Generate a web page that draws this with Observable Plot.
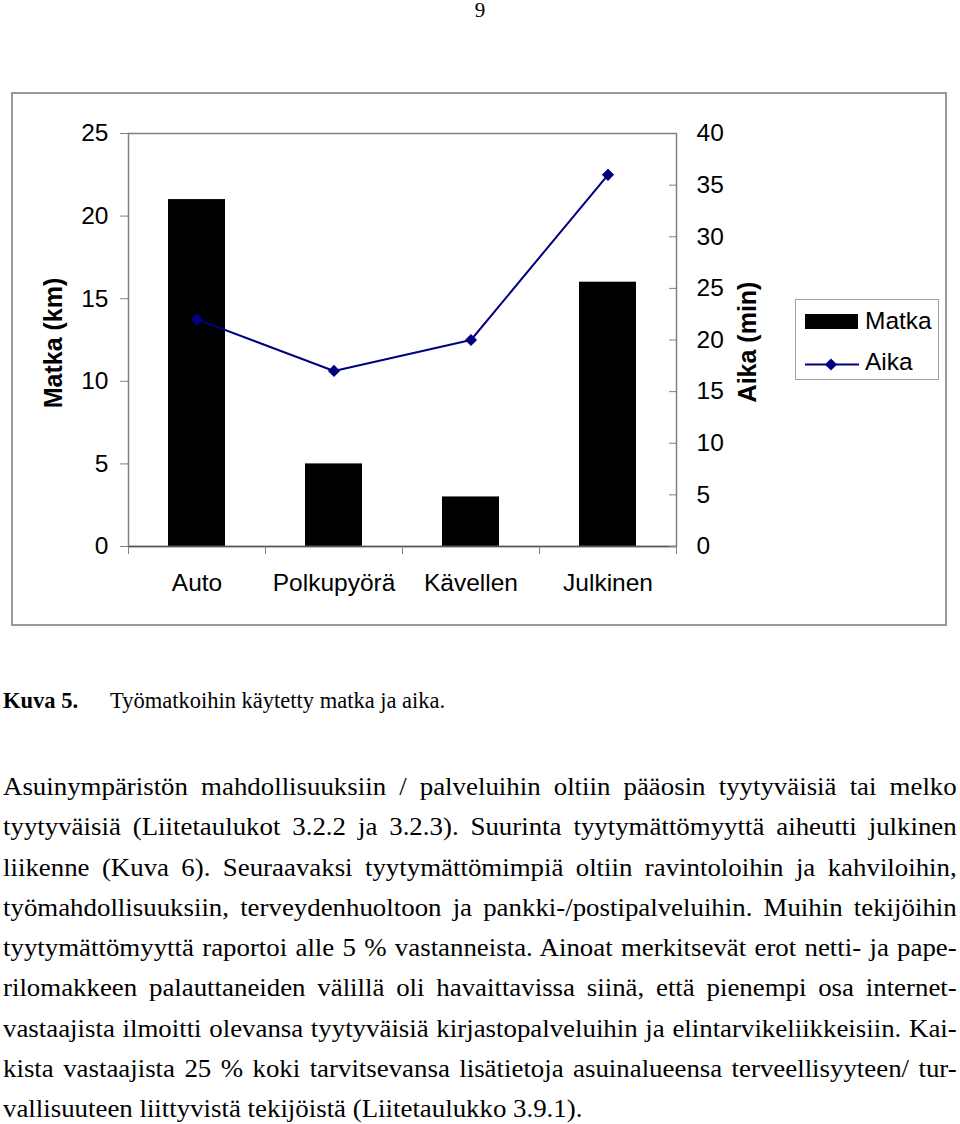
<!DOCTYPE html>
<html><head><meta charset="utf-8">
<script src="https://cdn.jsdelivr.net/npm/d3@7"></script>
<script src="https://cdn.jsdelivr.net/npm/@observablehq/plot@0.6"></script>
<style>
html,body{margin:0;padding:0;background:#fff;}
body{width:960px;height:1124px;position:relative;overflow:hidden;color:#000;}
.serif{font-family:"Liberation Serif","Times New Roman",serif;}
#pagenum{position:absolute;left:0;top:0;width:960px;text-align:center;font-size:21px;line-height:21px;}
#chartwrap{position:absolute;left:11px;top:92px;width:936px;height:534px;}
#chartwrap svg{display:block;}
#chartborder{position:absolute;left:0;top:0;width:936px;height:534px;box-sizing:border-box;border:2px solid #9a9a9a;pointer-events:none;}
#legend{position:absolute;left:784px;top:207px;width:144px;height:81px;box-sizing:border-box;border:1.5px solid #a0a0a0;background:#fff;}
#legend svg{position:absolute;left:-1.5px;top:-1.5px;}
#caption{position:absolute;left:3px;top:690px;font-size:22.5px;line-height:22.5px;white-space:nowrap;}
#caption b{display:inline-block;width:107px;}
#para{position:absolute;left:3px;top:767px;width:888px;font-size:25px;line-height:40.25px;transform:scaleX(1.074);transform-origin:0 0;}
#para div{white-space:nowrap;text-align:justify;text-align-last:justify;height:40.25px;}
#para div.last{text-align-last:left;}
</style></head><body>
<div id="pagenum" class="serif">9</div>
<div id="chartwrap"></div>
<div id="caption" class="serif"><b>Kuva 5.</b>Työmatkoihin käytetty matka ja aika.</div>
<div id="para" class="serif"></div>
<script>
// ---- data ----
const categories = ["Auto", "Polkupyörä", "Kävellen", "Julkinen"];
const matka = [21, 5, 3, 16];          // Matka (km), left axis
const aika = [22, 17, 20, 36];         // Aika (min), right axis
const matkaTicks = [0, 5, 10, 15, 20, 25];
const aikaTicks = [0, 5, 10, 15, 20, 25, 30, 35, 40];
const seriesNames = ["Matka", "Aika"];
const axisTitles = ["Matka (km)", "Aika (min)"];
const matkaMax = 25, aikaMax = 40;

const paragraphLines = [
  "Asuinympäristön mahdollisuuksiin / palveluihin oltiin pääosin tyytyväisiä tai melko",
  "tyytyväisiä (Liitetaulukot 3.2.2 ja 3.2.3). Suurinta tyytymättömyyttä aiheutti julkinen",
  "liikenne (Kuva 6). Seuraavaksi tyytymättömimpiä oltiin ravintoloihin ja kahviloihin,",
  "työmahdollisuuksiin, terveydenhuoltoon ja pankki-/postipalveluihin. Muihin tekijöihin",
  "tyytymättömyyttä raportoi alle 5 % vastanneista. Ainoat merkitsevät erot netti- ja pape-",
  "rilomakkeen palauttaneiden välillä oli havaittavissa siinä, että pienempi osa internet-",
  "vastaajista ilmoitti olevansa tyytyväisiä kirjastopalveluihin ja elintarvikeliikkeisiin. Kai-",
  "kista vastaajista 25 % koki tarvitsevansa lisätietoja asuinalueensa terveellisyyteen/ tur-",
  "vallisuuteen liittyvistä tekijöistä (Liitetaulukko 3.9.1)."
];

// ---- build table ----
const ratio = matkaMax / aikaMax;
const table = categories.map((c, i) => ({kulku: c, matka: matka[i], aika: aika[i]}));

const W = 936, H = 534, mL = 117, mR = 271, mT = 41, mB = 80;
const bw = (W - mL - mR) / categories.length;
const font = "'Liberation Sans', Arial, sans-serif";

const chart = Plot.plot({
  width: W, height: H,
  marginLeft: mL, marginRight: mR, marginTop: mT, marginBottom: mB,
  style: {fontFamily: font, fontSize: "24.5px", color: "#000", background: "transparent", overflow: "visible"},
  x: {type: "band", domain: categories, padding: 0},
  y: {domain: [0, matkaMax]},
  marks: [
    Plot.barY(table, {x: "kulku", y: "matka", fill: "#000", insetLeft: 40, insetRight: 40}),
    Plot.frame({stroke: "#808080", strokeWidth: 1.5}),
    Plot.ruleY([0], {stroke: "#555", strokeWidth: 1.5}),
    Plot.axisX({tickSize: 0, tickPadding: 27, fontSize: 24.5, label: null}),
    Plot.axisX(categories, {tickSize: 8, dx: -bw / 2, tickFormat: () => "", stroke: "#808080", label: null}),
    Plot.axisX([categories[categories.length - 1]], {tickSize: 8, dx: bw / 2, tickFormat: () => "", stroke: "#808080", label: null}),
    Plot.axisY(matkaTicks, {anchor: "left", tickSize: 8, tickPadding: 12, stroke: "#808080", fontSize: 24.5, label: null}),
    Plot.axisY(aikaTicks.map(t => t * ratio), {anchor: "right", tickSize: -8, tickPadding: 28, stroke: "#808080", fontSize: 24.5,
      tickFormat: d => String(Math.round(d / ratio)), label: null}),
    Plot.line(table, {x: "kulku", y: d => d.aika * ratio, stroke: "#000080", strokeWidth: 2}),
    Plot.dot(table, {x: "kulku", y: d => d.aika * ratio, symbol: "diamond2", r: 5.5, fill: "#000080", stroke: "none"}),
    Plot.text([axisTitles[0]], {frameAnchor: "left", text: d => d, rotate: -90, dx: -75, dy: 3, textAnchor: "middle", fontWeight: "bold", fontSize: 25}),
    Plot.text([axisTitles[1]], {frameAnchor: "right", text: d => d, rotate: -90, dx: 71, dy: 2, textAnchor: "middle", fontWeight: "bold", fontSize: 25})
  ]
});

const wrap = document.getElementById("chartwrap");
wrap.appendChild(chart);
const border = document.createElement("div");
border.id = "chartborder";
wrap.appendChild(border);

// legend
const legend = document.createElement("div");
legend.id = "legend";
const lsvg = d3.create("svg").attr("width", 144).attr("height", 81)
  .style("font-family", font).style("font-size", "24.5px");
lsvg.append("rect").attr("x", 10).attr("y", 15).attr("width", 53).attr("height", 15).attr("fill", "#000");
lsvg.append("text").attr("x", 70).attr("y", 29.5).text(seriesNames[0]);
lsvg.append("line").attr("x1", 10).attr("x2", 64).attr("y1", 65.5).attr("y2", 65.5).attr("stroke", "#000080").attr("stroke-width", 2);
lsvg.append("path").attr("d", d3.symbol(d3.symbolDiamond2, Math.PI * 5.5 * 5.5)()).attr("transform", "translate(36,65.5)").attr("fill", "#000080");
lsvg.append("text").attr("x", 70).attr("y", 70.5).text(seriesNames[1]);
legend.appendChild(lsvg.node());
wrap.appendChild(legend);

// paragraph
const para = document.getElementById("para");
paragraphLines.forEach((t, i) => {
  const d = document.createElement("div");
  d.textContent = t;
  if (i === paragraphLines.length - 1) d.className = "last";
  para.appendChild(d);
});
</script>
</body></html>
